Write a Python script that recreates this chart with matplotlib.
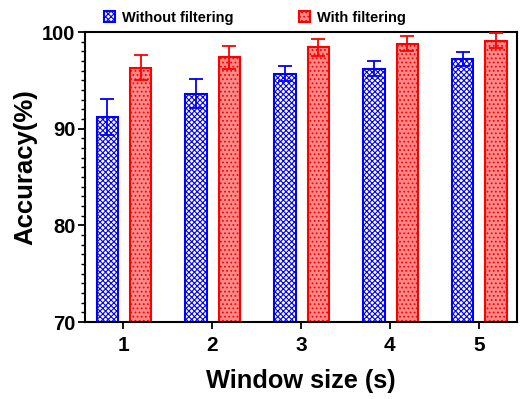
import numpy as np
import matplotlib
matplotlib.use("Agg")
import matplotlib.pyplot as plt
from matplotlib.ticker import MultipleLocator

plt.rcParams['font.family'] = ['Liberation Sans', 'DejaVu Sans']
plt.rcParams['font.weight'] = 'bold'
plt.rcParams['hatch.linewidth'] = 0.8

# datos
window = [1, 2, 3, 4, 5]
acc_sin = [91.2, 93.6, 95.7, 96.2, 97.2]
err_sin = [1.9, 1.5, 0.8, 0.8, 0.7]
acc_con = [96.3, 97.4, 98.4, 98.8, 99.1]
err_con = [1.3, 1.2, 0.85, 0.8, 0.8]

fig = plt.figure(figsize=(5.2, 3.99), dpi=100)
ax = fig.add_axes([85/520, 1 - 322/399, 432/520, 290/399])

x = np.array(window)
w = 0.24

# barras sin filtro (azul cuadriculado)
ax.bar(x - 0.18, acc_sin, w, bottom=0, color='white', edgecolor='#0000ff',
       hatch='xxxxxx', linewidth=1.5, label='Without filtering', zorder=2)
ax.errorbar(x - 0.18, acc_sin, yerr=err_sin, fmt='none', ecolor='#0000ff',
            elinewidth=1.3, capsize=5, capthick=1.3, zorder=3)

# barras con filtro (rojo)
ax.bar(x + 0.195, acc_con, w, color='#ff8a8a', edgecolor='#ff0000',
       hatch='....', linewidth=1.5, label='With filtering', zorder=2)
ax.errorbar(x + 0.195, acc_con, yerr=err_con, fmt='none', ecolor='#ff0000',
            elinewidth=1.3, capsize=5, capthick=1.3, zorder=3)

ax.set_ylim(70, 100)
ax.set_xlim(0.57, 5.43)
ax.set_xticks(window)
ax.set_yticks([70, 80, 90, 100])
ax.yaxis.set_minor_locator(MultipleLocator(1))

for s in ax.spines.values():
    s.set_linewidth(1.5)

ax.tick_params(axis='both', which='major', direction='out', length=5, width=1.3)
ax.tick_params(axis='y', which='major', labelsize=14.5, pad=2)
ax.tick_params(axis='x', which='major', labelsize=15, pad=5)
ax.tick_params(axis='y', which='minor', direction='out', length=3, width=1)

ax.set_xlabel('Window size (s)', fontsize=18.3, fontweight='bold', labelpad=10)
ax.set_ylabel('Accuracy(%)', fontsize=18.5, fontweight='bold')
ax.yaxis.set_label_coords(-0.111, 0.534)

ax.legend(loc='lower left', bbox_to_anchor=(0.03, 1.005), ncol=2, frameon=False,
          fontsize=10.5, handlelength=0.75, handleheight=0.75, columnspacing=4.5,
          handletextpad=0.5, borderaxespad=0.0)

fig.savefig('out.png', dpi=100)
